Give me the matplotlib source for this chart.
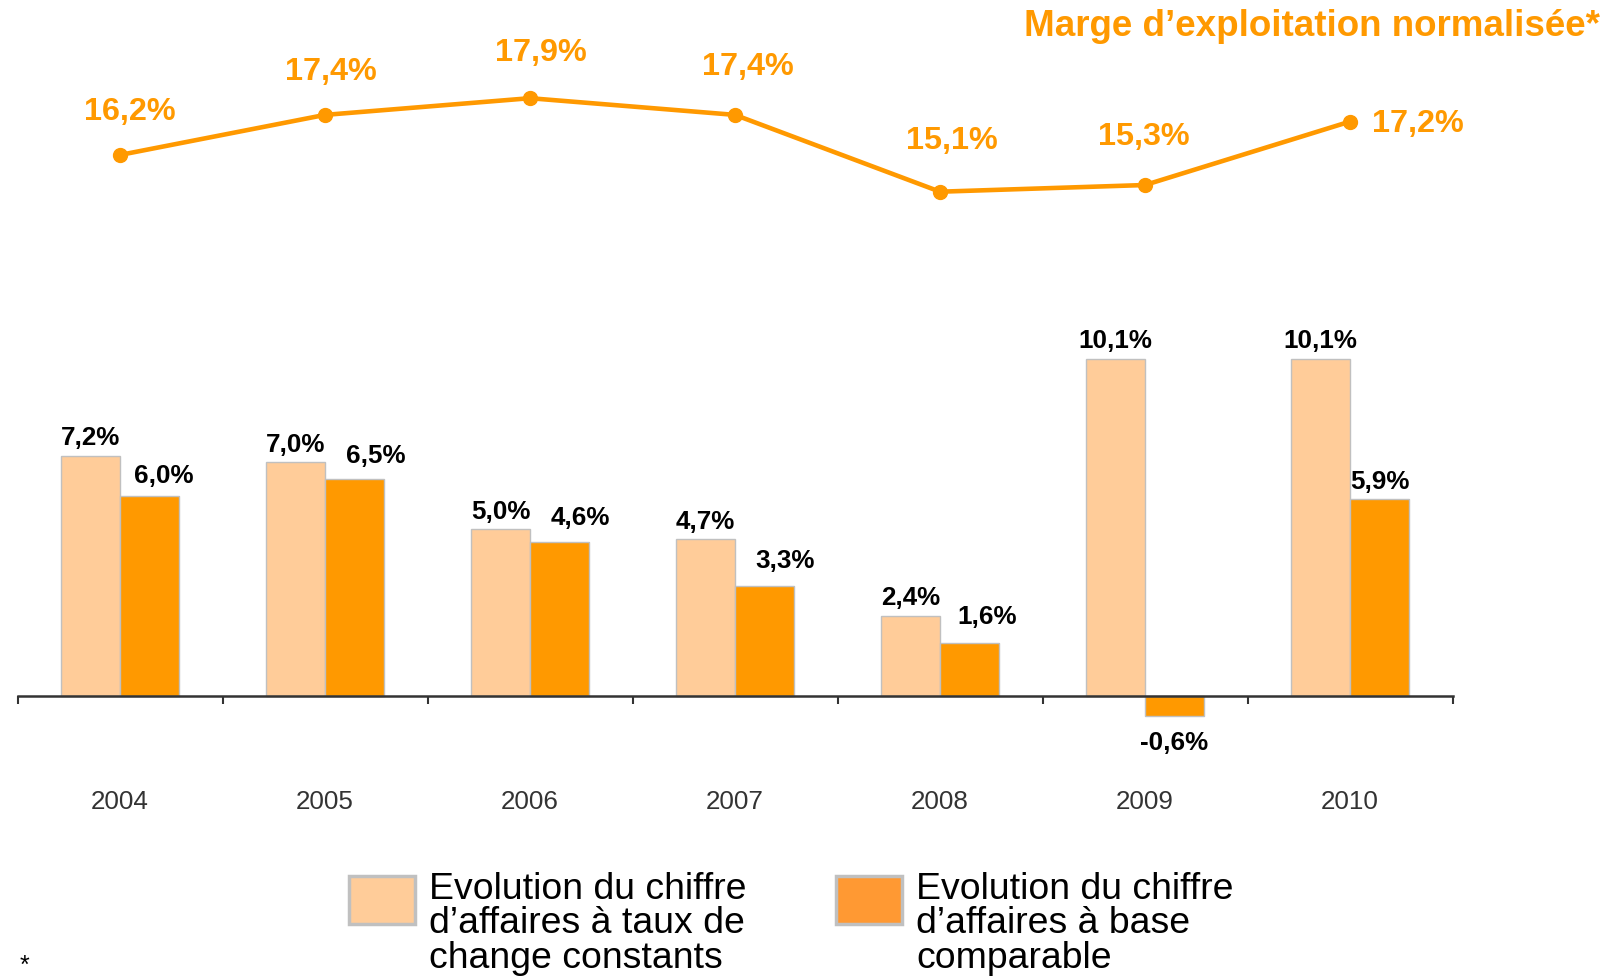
import matplotlib
matplotlib.use("Agg")
from matplotlib import pyplot as plt
from matplotlib.patches import Rectangle
import numpy as np

plt.rcParams['font.family'] = ['Liberation Sans', 'DejaVu Sans']

years = ['2004', '2005', '2006', '2007', '2008', '2009', '2010']
ca_taux_constants = [7.2, 7.0, 5.0, 4.7, 2.4, 10.1, 10.1]
ca_base_comparable = [6.0, 6.5, 4.6, 3.3, 1.6, -0.6, 5.9]
marge = [16.2, 17.4, 17.9, 17.4, 15.1, 15.3, 17.2]

peche = '#FFCC99'
orange = '#FF9900'
gris = '#333333'
PT = 0.72  # pixels -> points a 100 dpi


def fmt(v):
    return f"{v:.1f}%".replace('.', ',')


fig = plt.figure(figsize=(16.1, 9.8), dpi=100)
ax = fig.add_axes([17.5 / 1610, 184 / 980, 1435 / 1610, 796 / 980])
ax.set_xlim(-0.5, 6.5)
ax.set_ylim(-2.994, 20.84)

x = np.arange(len(years))
w = 0.288
ax.bar(x - w / 2, ca_taux_constants, w, color=peche, edgecolor='#C0C0C0', linewidth=1)
ax.bar(x + w / 2, ca_base_comparable, w, color=orange, edgecolor='#C0C0C0', linewidth=1)

nudge_fonce = [(14, 13), (21, 16), (21, 17), (21, 18), (18, 19), (0, 0), (0, 10)]
for i in range(len(years)):
    ax.annotate(fmt(ca_taux_constants[i]), (x[i] - w / 2, ca_taux_constants[i]),
                xytext=(0, 7.5), textcoords='offset points', ha='center', va='baseline',
                fontsize=18.7, fontweight='bold', color='black')
    v = ca_base_comparable[i]
    dx, dy = nudge_fonce[i]
    if v < 0:
        ax.annotate(fmt(v), (x[i] + w / 2, v), xytext=(0, -11), textcoords='offset points',
                    ha='center', va='top', fontsize=18.7, fontweight='bold', color='black')
    else:
        ax.annotate(fmt(v), (x[i] + w / 2, v), xytext=(dx * PT, dy * PT),
                    textcoords='offset points', ha='center', va='baseline',
                    fontsize=18.7, fontweight='bold', color='black')

# courbe de marge
nudge_marge = [(10, 35), (6, 35), (11, 37), (13, 40), (12, 43), (-1, 40)]
ax.plot(x, marge, color=orange, linewidth=3.3, marker='o', markersize=10, zorder=5)
for i in range(len(years)):
    if i == len(years) - 1:
        ax.annotate(fmt(marge[i]), (x[i], marge[i]), xytext=(16, -2), textcoords='offset points',
                    ha='left', va='center', fontsize=23.3, fontweight='bold', color=orange)
    else:
        dx, dy = nudge_marge[i]
        ax.annotate(fmt(marge[i]), (x[i], marge[i]), xytext=(dx * PT, dy * PT),
                    textcoords='offset points', ha='center', va='baseline',
                    fontsize=23.3, fontweight='bold', color=orange)

# axe
for s in ['left', 'right', 'top']:
    ax.spines[s].set_visible(False)
ax.spines['bottom'].set_position(('data', 0))
ax.spines['bottom'].set_color(gris)
ax.spines['bottom'].set_linewidth(1.8)
ax.set_yticks([])
ax.set_xticks(x)
ax.set_xticklabels(years, fontsize=18.7, color=gris)
ax.tick_params(axis='x', which='major', length=0, pad=68)
ax.set_xticks(np.arange(-0.5, 7, 1), minor=True)
ax.tick_params(axis='x', which='minor', length=6, width=1.5, color=gris, direction='out')

fig.text(1600 / 1610, 1 - 27 / 980, "Marge d\u2019exploitation normalis\u00e9e*", ha='right',
         va='center', fontsize=26.5, fontweight='bold', color=orange)

# legende
fig.patches.append(Rectangle((349 / 1610, 56 / 980), 66 / 1610, 48 / 980, transform=fig.transFigure,
                             facecolor=peche, edgecolor='#C0C0C0', linewidth=2.5))
fig.patches.append(Rectangle((836 / 1610, 56 / 980), 66 / 1610, 48 / 980, transform=fig.transFigure,
                             facecolor='#FF9933', edgecolor='#C0C0C0', linewidth=2.5))
fig.text(429 / 1610, 1 - 872 / 980,
         "Evolution du chiffre\nd\u2019affaires \u00e0 taux de\nchange constants",
         ha='left', va='top', fontsize=26.9, linespacing=0.98, color='black')
fig.text(916 / 1610, 1 - 872 / 980,
         "Evolution du chiffre\nd\u2019affaires \u00e0 base\ncomparable",
         ha='left', va='top', fontsize=26.9, linespacing=0.98, color='black')
fig.text(20 / 1610, 0.002, "*", ha='left', va='bottom', fontsize=18, color='black')

plt.savefig("out.png", dpi=100)
